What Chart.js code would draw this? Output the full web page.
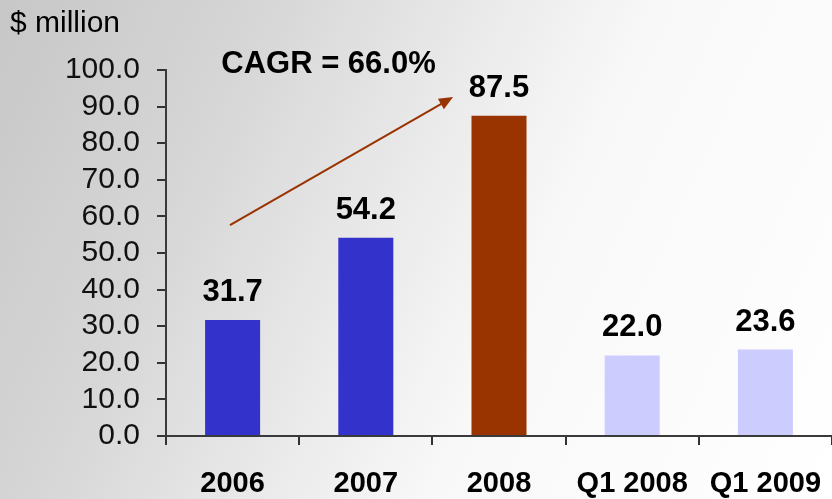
<!DOCTYPE html>
<html>
<head>
<meta charset="utf-8">
<script src="https://cdn.jsdelivr.net/npm/chart.js@4"></script>
<style>
  html, body { margin: 0; padding: 0; }
  body {
    width: 832px; height: 499px; overflow: hidden;
    background: linear-gradient(115deg, #c7c7c7 0%, #d6d6d6 25%, #e9e9e9 45%, #f8f8f8 62%, #ffffff 100%);
  }
  #wrap { position: relative; width: 832px; height: 499px; }
</style>
</head>
<body>
<div id="wrap"><canvas id="revChart" width="832" height="499"></canvas></div>
<script>
let periods = ['2006', '2007', '2008', 'Q1 2008', 'Q1 2009']
let revenue = [31.7, 54.2, 87.5, 22.0, 23.6]
let barColors = ['#3333cc', '#3333cc', '#993300', '#ccccff', '#ccccff']
let yTicks = [0, 10, 20, 30, 40, 50, 60, 70, 80, 90, 100]
let unitLabel = '$ million'
let cagrText = 'CAGR = 66.0%'

let font = '"Liberation Sans", Arial, sans-serif'

// value labels, unit label, CAGR arrow
let extras = {
  id: 'extras',
  afterDatasetsDraw(chart) {
    let ctx = chart.ctx
    let x = chart.scales.x
    let y = chart.scales.y
    ctx.save()
    ctx.fillStyle = '#000'
    ctx.textAlign = 'center'
    ctx.textBaseline = 'alphabetic'
    ctx.font = 'bold 31px ' + font
    chart.getDatasetMeta(0).data.forEach((bar, i) => {
      ctx.fillText(revenue[i].toFixed(1), bar.x, bar.y - 19)
    })

    ctx.font = '30px ' + font
    ctx.textAlign = 'left'
    ctx.fillText(unitLabel, 10, 32)

    ctx.font = 'bold 31px ' + font
    ctx.textAlign = 'center'
    ctx.fillText(cagrText, x.getPixelForValue(0.72), y.getPixelForValue(99.2))

    // arrow
    let x0 = x.getPixelForValue(-0.02), y0 = y.getPixelForValue(57.6)
    let x1 = x.getPixelForValue(1.655), y1 = y.getPixelForValue(92.6)
    let ang = Math.atan2(y1 - y0, x1 - x0)
    ctx.strokeStyle = '#993300'
    ctx.fillStyle = '#993300'
    ctx.lineWidth = 2
    ctx.beginPath()
    ctx.moveTo(x0, y0)
    ctx.lineTo(x1 - 10 * Math.cos(ang), y1 - 10 * Math.sin(ang))
    ctx.stroke()
    ctx.beginPath()
    ctx.moveTo(x1, y1)
    ctx.lineTo(x1 - 14 * Math.cos(ang) + 6 * Math.sin(ang), y1 - 14 * Math.sin(ang) - 6 * Math.cos(ang))
    ctx.lineTo(x1 - 14 * Math.cos(ang) - 6 * Math.sin(ang), y1 - 14 * Math.sin(ang) + 6 * Math.cos(ang))
    ctx.closePath()
    ctx.fill()
    ctx.restore()
  }
}

let ctx = document.getElementById('revChart').getContext('2d')

let revChart = new Chart(ctx, {
  type: 'bar',
  data: {
    labels: periods,
    datasets: [{
      data: revenue,
      backgroundColor: barColors,
      borderWidth: 0,
      categoryPercentage: 1,
      barPercentage: 0.413
    }]
  },
  options: {
    responsive: false,
    animation: false,
    layout: { padding: { top: 70, right: 0, left: 0, bottom: 0 } },
    plugins: { legend: { display: false }, tooltip: { enabled: false } },
    scales: {
      x: {
        afterFit(scale) {
          scale.height = 63
          scale.paddingLeft = 0
          scale.paddingRight = 0
        },
        border: { display: true, color: '#3a3a3a', width: 2 },
        grid: {
          display: true, drawOnChartArea: false, drawTicks: true, tickLength: 9, lineWidth: 2,
          color: c => c.index === periods.length ? 'rgba(0,0,0,0)' : '#333'
        },
        ticks: { color: '#000', font: { family: font, size: 29, weight: 'bold' }, padding: 22, autoSkip: false, maxRotation: 0 }
      },
      y: {
        min: 0,
        max: 100,
        afterFit(scale) {
          scale.width = 166
          scale.paddingTop = 0
          scale.paddingBottom = 0
        },
        afterBuildTicks(scale) { scale.ticks = yTicks.map(v => ({ value: v })) },
        border: { display: true, color: '#3a3a3a', width: 2 },
        grid: { display: true, drawOnChartArea: false, drawTicks: true, tickLength: 9, color: '#333', lineWidth: 2 },
        ticks: {
          color: '#111',
          font: { family: font, size: 30 },
          padding: 17,
          autoSkip: false,
          callback: v => v.toFixed(1)
        }
      }
    }
  },
  plugins: [extras]
})
</script>
</body>
</html>
